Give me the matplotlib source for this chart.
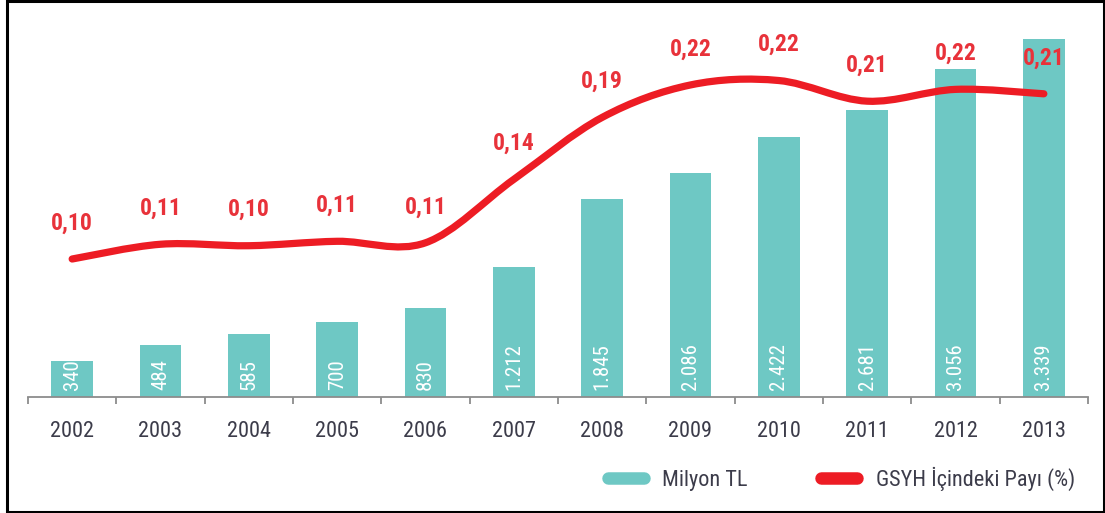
import matplotlib
matplotlib.use("Agg")
import matplotlib.pyplot as plt
from matplotlib.path import Path
from matplotlib.patches import PathPatch, Rectangle
from matplotlib.lines import Line2D
from matplotlib import font_manager

# ---- data ----
years = ["2002", "2003", "2004", "2005", "2006", "2007",
         "2008", "2009", "2010", "2011", "2012", "2013"]
milyon_tl = [340, 484, 585, 700, 830, 1212, 1845, 2086, 2422, 2681, 3056, 3339]
share_labels = ["0,10", "0,11", "0,10", "0,11", "0,11", "0,14",
                "0,19", "0,22", "0,22", "0,21", "0,22", "0,21"]
# height of the drawn (smoothed) share line
share_line = [0.100, 0.110, 0.109, 0.112, 0.111, 0.154,
              0.196, 0.218, 0.221, 0.207, 0.215, 0.212]
legend_labels = ["Milyon TL", "GSYH İçindeki Payı (%)"]

TEAL = "#6ec8c4"
RED = "#ed1c24"
RED_TXT = "#e8323a"
TXT = "#3c3c4a"
AXIS = "#8c8c8c"

fl = font_manager.fontManager.ttflist
names = {f.name for f in fl}
has_dv_cond = any(f.name == "DejaVu Sans" and f.stretch == "condensed" for f in fl)
if "Liberation Sans Narrow" in names:
    COND = dict(family="Liberation Sans Narrow")
elif "Roboto Condensed" in names:
    COND = dict(family="Roboto Condensed")
elif has_dv_cond:
    COND = dict(family="DejaVu Sans", stretch="condensed")
else:
    COND = dict(family="Liberation Sans")

W, H = 1105, 513
fig = plt.figure(figsize=(W / 100, H / 100), dpi=100)
ax_l, ax_r, ax_b, ax_t = 28, 1088, 397, 20
ax = fig.add_axes([ax_l / W, 1 - ax_b / H, (ax_r - ax_l) / W, (ax_b - ax_t) / H])

x = list(range(len(years)))
ax.bar(x, milyon_tl, width=0.47, color=TEAL, zorder=2)
ax.set_xlim(-0.5, len(years) - 0.5)
ax.set_ylim(0, (ax_b - ax_t) / 0.1072)

for s in ["top", "left", "right"]:
    ax.spines[s].set_visible(False)
ax.spines["bottom"].set_color(AXIS)
ax.spines["bottom"].set_linewidth(1.3)
ax.set_yticks([])
ax.set_xticks(x)
ax.set_xticklabels(years)
for t in ax.get_xticklabels():
    t.set_fontproperties(font_manager.FontProperties(size=16, **COND))
    t.set_color(TXT)
ax.tick_params(axis="x", which="major", length=0, pad=17)
ax.set_xticks([i - 0.5 for i in range(len(years) + 1)], minor=True)
ax.tick_params(axis="x", which="minor", length=5, width=1.3, color=AXIS, direction="out")

for i, v in enumerate(milyon_tl):
    ax.annotate(f"{v:,}".replace(",", "."), xy=(i, 0), xytext=(0, 7),
                textcoords="offset pixels", rotation=90, ha="center", va="bottom",
                color="white",
                fontproperties=font_manager.FontProperties(size=15, **COND),
                zorder=3)

# secondary axis for the share line
ax2 = ax.twinx()
ax2.set_ylim(0.10 - (ax_b - 259) / 1475, 0.10 + (259 - ax_t) / 1475)
ax2.set_xlim(ax.get_xlim())
ax2.axis("off")

# smooth curve (Catmull-Rom -> cubic Bezier) through the line points
pts = list(zip(x, share_line))
verts = [pts[0]]
codes = [Path.MOVETO]
n = len(pts)
for i in range(n - 1):
    p0 = pts[i - 1] if i > 0 else pts[i]
    p1 = pts[i]
    p2 = pts[i + 1]
    p3 = pts[i + 2] if i + 2 < n else pts[i + 1]
    c1 = (p1[0] + (p2[0] - p0[0]) / 6, p1[1] + (p2[1] - p0[1]) / 6)
    c2 = (p2[0] - (p3[0] - p1[0]) / 6, p2[1] - (p3[1] - p1[1]) / 6)
    verts += [c1, c2, p2]
    codes += [Path.CURVE4] * 3
curve = PathPatch(Path(verts, codes), facecolor="none", edgecolor=RED,
                  linewidth=5.2, capstyle="round", joinstyle="round", zorder=4)
ax2.add_patch(curve)

for i, (lab, v) in enumerate(zip(share_labels, share_line)):
    ax2.annotate(lab, xy=(i, v), xytext=(0, 36), textcoords="offset pixels",
                 ha="center", va="center", color=RED_TXT,
                 fontproperties=font_manager.FontProperties(size=17, weight="bold", **COND),
                 zorder=5)

# legend
handles = [Line2D([], [], color=TEAL, lw=9, solid_capstyle="round"),
           Line2D([], [], color=RED, lw=9, solid_capstyle="round")]
leg = fig.legend(handles, legend_labels, loc="center left",
                 bbox_to_anchor=(608 / W, 1 - 479 / H), ncol=2, frameon=False,
                 prop=font_manager.FontProperties(size=16, **COND),
                 handlelength=1.6, handletextpad=0.85, columnspacing=3.3,
                 borderpad=0, borderaxespad=0)
for t in leg.get_texts():
    t.set_color(TXT)

# outer frame
fig.add_artist(Rectangle((7 / W, 1.2 / H), (W - 8.5) / W, (H - 2.6) / H,
                         transform=fig.transFigure, fill=False,
                         edgecolor="black", linewidth=2.2))

fig.savefig("out.png", dpi=100, facecolor="white")
